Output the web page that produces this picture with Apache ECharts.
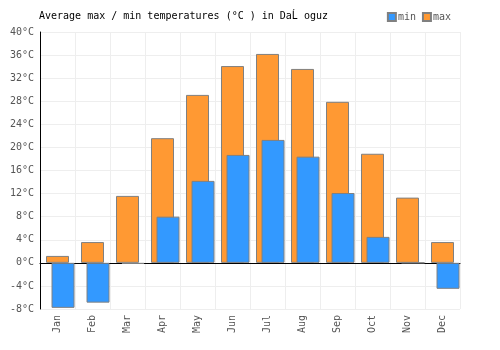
<!DOCTYPE html>
<html><head><meta charset="utf-8">
<script src="https://cdn.jsdelivr.net/npm/echarts@6/dist/echarts.min.js"></script>
<style>html,body{margin:0;padding:0;background:#fff}#c{width:500px;height:350px}</style>
</head><body><div id="c"></div>
<script>
const months = ['Jan','Feb','Mar','Apr','May','Jun','Jul','Aug','Sep','Oct','Nov','Dec'];
const maxTemps = [1.2, 3.6, 11.6, 21.6, 29.1, 34.1, 36.2, 33.6, 27.9, 18.9, 11.3, 3.6];
const minTemps = [-7.8, -6.9, -0.2, 8.0, 14.2, 18.7, 21.3, 18.4, 12.1, 4.5, 0, -4.5];
const FONT = 'DejaVu Sans Mono';
const chart = echarts.init(document.getElementById('c'), null, {renderer:'canvas'});
chart.setOption({
  animation: false,
  title: {text: 'Average max / min temperatures (°C ) in DaĹ oguz', left: 34, top: 6,
    textStyle: {fontFamily: FONT, fontSize: 10, fontWeight: 'normal', color: '#000'}},
  legend: {data: ['min','max'], right: 44, top: 7, itemWidth: 8, itemHeight: 8, itemGap: 6,
    icon: 'rect', textStyle: {fontFamily: FONT, fontSize: 10, color: '#555', padding: [0,0,0,-3]}},
  grid: {left: 40, right: 40, top: 32, bottom: 41, outerBoundsMode: 'none', containLabel: false},
  xAxis: [{type: 'category', data: months, boundaryGap: true, position: 'bottom',
    axisLine: {show: false, onZero: false}, axisTick: {show: false},
    splitLine: {show: true, lineStyle: {color: '#eee'}},
    axisLabel: {rotate: 90, fontFamily: FONT, fontSize: 10, color: '#555', margin: 6, interval: 0}},
    {type: 'category', data: months, position: 'bottom',
    axisLine: {show: true, onZero: true, lineStyle: {color: '#000', width: 1}},
    axisTick: {show: false}, axisLabel: {show: false}, splitLine: {show: false}}],
  yAxis: {type: 'value', min: -8, max: 40, interval: 4,
    axisLine: {show: true, lineStyle: {color: '#000'}}, axisTick: {show: false},
    splitLine: {lineStyle: {color: '#eee'}},
    axisLabel: {formatter: '{value}°C', fontFamily: FONT, fontSize: 10, color: '#555', margin: 6}},
  series: [
    {name: 'max', type: 'bar', xAxisIndex: 0, data: maxTemps, barWidth: 23,
      itemStyle: {color: '#ff9933', borderColor: '#808080', borderWidth: 1}},
    {name: 'dummy', type: 'bar', xAxisIndex: 1, data: months.map(() => '-'), barWidth: 23, barGap: '-52%'},
    {name: 'min', type: 'bar', xAxisIndex: 1, data: minTemps, barWidth: 23, barGap: '-52%',
      itemStyle: {color: '#3399ff', borderColor: '#808080', borderWidth: 1}}
  ]
});
</script></body></html>
